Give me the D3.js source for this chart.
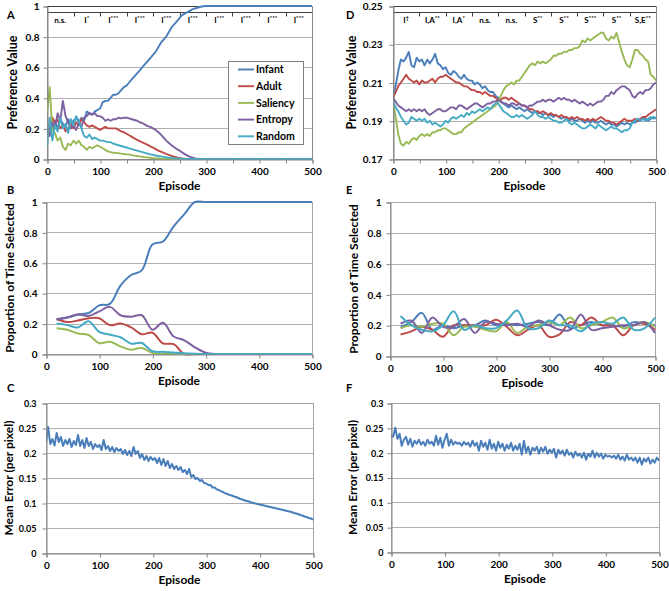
<!DOCTYPE html>
<html><head><meta charset="utf-8">
<script src="https://cdn.jsdelivr.net/npm/d3@7"></script>
<style>
body{margin:0;background:#fff}
svg text{font-family:Lato,"Open Sans",sans-serif;font-weight:700;fill:#000}
</style></head><body>
<svg id="chart" width="669" height="591"></svg>
<script>
const seriesNames = ["Infant","Adult","Saliency","Entropy","Random"];
const seriesColors = ["#4a7ebb","#be4b48","#98b954","#7d60a0","#46aac5"];
const xTickLabels = [0,100,200,300,400,500];
const prefTicks = [0,0.2,0.4,0.6,0.8,1];
const prefTicksD = [0.17,0.19,0.21,0.23,0.25];
const errTicks = [0,0.05,0.1,0.15,0.2,0.25,0.3];

// Panel A/D episodes every 5
const episodesAD = d3.range(0,501,5);
const infantA = [0.15,0.22,0.19,0.25,0.20,0.26,0.23,0.21,0.26,0.22,
0.25,0.27,0.24,0.27,0.25,0.31,0.30,0.29,0.31,0.32,
0.33,0.37,0.38,0.38,0.40,0.42,0.42,0.43,0.45,0.47,
0.48,0.50,0.52,0.54,0.56,0.58,0.60,0.62,0.64,0.66,
0.68,0.70,0.73,0.76,0.78,0.80,0.83,0.86,0.88,0.90,
0.92,0.94,0.95,0.96,0.97,0.98,0.985,0.99,0.995,0.998,
1,1,1,1,1,1,1,1,1,1,
1,1,1,1,1,1,1,1,1,1,
1,1,1,1,1,1,1,1,1,1,
1,1,1,1,1,1,1,1,1,1,
1];
const adultA = [0.15,0.20,0.27,0.24,0.26,0.20,0.22,0.18,0.20,0.23,
0.20,0.24,0.22,0.26,0.24,0.22,0.21,0.22,0.21,0.20,
0.19,0.20,0.21,0.20,0.20,0.20,0.20,0.19,0.18,0.175,
0.165,0.155,0.145,0.135,0.125,0.117,0.108,0.100,0.092,0.083,
0.075,0.065,0.055,0.048,0.040,0.033,0.027,0.020,0.015,0.010,
0.007,0.004,0.002,0.001,0,0,0,0,0,0,
0,0,0,0,0,0,0,0,0,0,
0,0,0,0,0,0,0,0,0,0,
0,0,0,0,0,0,0,0,0,0,
0,0,0,0,0,0,0,0,0,0,
0];
const saliencyA = [0.30,0.47,0.19,0.17,0.12,0.14,0.08,0.06,0.10,0.09,
0.12,0.10,0.12,0.09,0.08,0.06,0.08,0.07,0.08,0.09,
0.08,0.07,0.06,0.05,0.045,0.04,0.04,0.038,0.035,0.033,
0.03,0.03,0.025,0.022,0.02,0.017,0.015,0.012,0.01,0.008,
0.006,0.004,0.003,0.002,0.001,0,0,0,0,0,
0,0,0,0,0,0,0,0,0,0,
0,0,0,0,0,0,0,0,0,0,
0,0,0,0,0,0,0,0,0,0,
0,0,0,0,0,0,0,0,0,0,
0,0,0,0,0,0,0,0,0,0,
0];
const entropyA = [0.20,0.15,0.24,0.20,0.30,0.25,0.38,0.28,0.24,0.20,
0.22,0.19,0.23,0.21,0.27,0.28,0.30,0.29,0.30,0.28,
0.28,0.27,0.25,0.26,0.25,0.26,0.26,0.27,0.265,0.27,
0.27,0.265,0.26,0.255,0.25,0.24,0.235,0.225,0.215,0.21,
0.20,0.19,0.175,0.16,0.14,0.12,0.105,0.09,0.077,0.065,
0.055,0.043,0.032,0.022,0.014,0.008,0.004,0.002,0,0,
0,0,0,0,0,0,0,0,0,0,
0,0,0,0,0,0,0,0,0,0,
0,0,0,0,0,0,0,0,0,0,
0,0,0,0,0,0,0,0,0,0,
0];
const randomA = [0.08,0.27,0.12,0.22,0.18,0.27,0.20,0.23,0.17,0.26,
0.22,0.28,0.25,0.20,0.15,0.14,0.16,0.13,0.14,0.13,
0.12,0.12,0.115,0.11,0.11,0.10,0.095,0.09,0.085,0.08,
0.075,0.07,0.065,0.06,0.055,0.05,0.045,0.04,0.035,0.03,
0.027,0.023,0.02,0.017,0.014,0.011,0.009,0.007,0.005,0.004,
0.003,0.002,0.001,0,0,0,0,0,0,0,
0,0,0,0,0,0,0,0,0,0,
0,0,0,0,0,0,0,0,0,0,
0,0,0,0,0,0,0,0,0,0,
0,0,0,0,0,0,0,0,0,0,
0];

const infantD = [0.202,0.208,0.216,0.222,0.221,0.223,0.226,0.219,0.218,0.223,
0.221,0.222,0.219,0.222,0.220,0.222,0.225,0.220,0.219,0.217,
0.218,0.215,0.214,0.216,0.215,0.213,0.212,0.214,0.212,0.211,
0.211,0.209,0.210,0.209,0.207,0.208,0.206,0.205,0.205,0.203,
0.202,0.200,0.199,0.198,0.197,0.198,0.197,0.196,0.197,0.196,
0.195,0.196,0.195,0.194,0.195,0.194,0.194,0.193,0.194,0.193,
0.193,0.192,0.193,0.192,0.191,0.192,0.191,0.190,0.191,0.190,
0.190,0.191,0.190,0.189,0.190,0.189,0.190,0.189,0.189,0.190,
0.189,0.188,0.189,0.188,0.188,0.187,0.188,0.189,0.188,0.189,
0.188,0.189,0.189,0.190,0.190,0.191,0.191,0.190,0.191,0.192,
0.191];
const adultD = [0.202,0.205,0.208,0.210,0.212,0.214,0.212,0.211,0.210,0.211,
0.209,0.211,0.210,0.210,0.211,0.212,0.210,0.212,0.213,0.213,
0.214,0.213,0.212,0.211,0.210,0.210,0.209,0.208,0.208,0.207,
0.206,0.206,0.205,0.205,0.204,0.205,0.204,0.203,0.203,0.202,
0.201,0.201,0.202,0.202,0.201,0.202,0.201,0.200,0.199,0.198,
0.198,0.197,0.196,0.196,0.195,0.195,0.194,0.195,0.194,0.193,
0.194,0.193,0.193,0.192,0.193,0.192,0.192,0.191,0.192,0.191,
0.192,0.191,0.191,0.190,0.191,0.190,0.191,0.190,0.191,0.192,
0.191,0.190,0.190,0.189,0.189,0.188,0.189,0.190,0.191,0.190,
0.190,0.190,0.191,0.190,0.191,0.192,0.192,0.193,0.194,0.195,
0.196];
const saliencyD = [0.200,0.192,0.183,0.178,0.177,0.179,0.178,0.180,0.181,0.180,
0.182,0.183,0.182,0.183,0.182,0.184,0.184,0.185,0.185,0.186,
0.186,0.185,0.184,0.183,0.183,0.184,0.184,0.186,0.187,0.188,
0.189,0.190,0.191,0.192,0.193,0.194,0.195,0.196,0.197,0.198,
0.200,0.203,0.206,0.208,0.209,0.210,0.209,0.211,0.211,0.213,
0.215,0.217,0.219,0.220,0.219,0.221,0.220,0.221,0.220,0.221,
0.222,0.224,0.224,0.225,0.225,0.226,0.226,0.227,0.227,0.228,
0.228,0.229,0.232,0.231,0.233,0.232,0.233,0.234,0.235,0.236,
0.236,0.233,0.232,0.234,0.233,0.236,0.231,0.226,0.222,0.219,
0.218,0.222,0.227,0.227,0.225,0.224,0.222,0.221,0.214,0.213,
0.211];
const entropyD = [0.202,0.200,0.198,0.197,0.196,0.195,0.196,0.195,0.196,0.195,
0.196,0.195,0.196,0.194,0.193,0.194,0.195,0.196,0.196,0.195,
0.195,0.196,0.197,0.197,0.196,0.198,0.198,0.197,0.196,0.197,
0.198,0.199,0.199,0.198,0.197,0.198,0.199,0.199,0.200,0.200,
0.201,0.200,0.199,0.199,0.198,0.199,0.199,0.198,0.199,0.198,
0.198,0.197,0.198,0.198,0.199,0.200,0.200,0.201,0.200,0.201,
0.201,0.200,0.201,0.202,0.201,0.202,0.201,0.201,0.200,0.201,
0.200,0.199,0.200,0.199,0.198,0.199,0.198,0.199,0.200,0.200,
0.201,0.203,0.203,0.205,0.204,0.206,0.207,0.208,0.208,0.207,
0.206,0.203,0.202,0.204,0.205,0.204,0.206,0.206,0.207,0.209,
0.210];
const randomD = [0.200,0.197,0.195,0.192,0.190,0.188,0.189,0.192,0.191,0.190,
0.191,0.190,0.191,0.189,0.190,0.188,0.189,0.188,0.187,0.188,
0.190,0.189,0.191,0.192,0.191,0.192,0.193,0.192,0.194,0.193,
0.195,0.194,0.195,0.196,0.195,0.196,0.197,0.196,0.198,0.199,
0.199,0.197,0.195,0.194,0.193,0.192,0.192,0.193,0.192,0.193,
0.192,0.191,0.192,0.193,0.195,0.193,0.192,0.192,0.191,0.192,
0.191,0.190,0.190,0.189,0.189,0.190,0.191,0.189,0.188,0.189,
0.188,0.187,0.186,0.186,0.187,0.188,0.187,0.186,0.188,0.187,
0.186,0.185,0.186,0.187,0.186,0.186,0.185,0.184,0.185,0.185,
0.186,0.189,0.190,0.191,0.190,0.191,0.190,0.191,0.192,0.191,
0.192];

// Panels B/E: every 20 episodes from 20
const episodesBE = d3.range(20,501,20);
const infantB = [0.23,0.24,0.26,0.27,0.32,0.33,0.45,0.52,0.55,0.72,0.74,0.84,0.92,1,1,1,1,1,1,1,1,1,1,1,1];
const adultB = [0.23,0.21,0.22,0.235,0.235,0.19,0.20,0.175,0.13,0.14,0.07,0.065,0,0,0,0,0,0,0,0,0,0,0,0,0];
const saliencyB = [0.17,0.16,0.135,0.125,0.072,0.08,0.05,0.028,0.04,0.007,0.002,0,0,0,0,0,0,0,0,0,0,0,0,0,0];
const entropyB = [0.225,0.24,0.26,0.25,0.28,0.31,0.255,0.245,0.255,0.16,0.205,0.115,0.09,0.044,0.009,0,0,0,0,0,0,0,0,0,0];
const randomB = [0.20,0.19,0.175,0.215,0.145,0.127,0.11,0.068,0.072,0.018,0.014,0.01,0.005,0.002,0,0,0,0,0,0,0,0,0,0,0];

const infantE = [0.19,0.22,0.28,0.17,0.20,0.18,0.20,0.20,0.23,0.20,0.21,0.20,0.21,0.22,0.20,0.27,0.18,0.20,0.22,0.20,0.20,0.19,0.22,0.21,0.20];
const adultE = [0.14,0.16,0.19,0.17,0.125,0.20,0.20,0.20,0.20,0.235,0.19,0.135,0.17,0.20,0.125,0.14,0.22,0.20,0.25,0.20,0.20,0.135,0.20,0.21,0.17];
const saliencyE = [0.18,0.20,0.19,0.21,0.21,0.135,0.19,0.19,0.17,0.16,0.22,0.15,0.19,0.20,0.22,0.20,0.25,0.18,0.20,0.22,0.25,0.18,0.20,0.22,0.19];
const entropyE = [0.21,0.23,0.15,0.25,0.19,0.19,0.24,0.15,0.22,0.21,0.20,0.21,0.19,0.23,0.20,0.17,0.17,0.27,0.17,0.18,0.19,0.20,0.20,0.22,0.15];
const randomE = [0.26,0.20,0.17,0.16,0.20,0.29,0.17,0.20,0.18,0.18,0.23,0.295,0.18,0.18,0.23,0.20,0.20,0.16,0.21,0.22,0.21,0.25,0.17,0.18,0.25];

// Panels C/F: every 4 episodes
const episodesCF = d3.range(0,501,4);
const errorC = [0.222,0.252,0.218,0.228,0.215,0.240,0.222,0.232,0.214,0.226,
0.218,0.228,0.212,0.224,0.216,0.236,0.214,0.226,0.210,0.230,
0.214,0.222,0.208,0.218,0.212,0.216,0.206,0.226,0.208,0.214,
0.204,0.212,0.202,0.210,0.204,0.208,0.198,0.206,0.196,0.204,
0.194,0.212,0.198,0.204,0.190,0.198,0.186,0.194,0.184,0.192,
0.186,0.190,0.180,0.190,0.176,0.188,0.174,0.184,0.170,0.178,
0.168,0.174,0.166,0.172,0.162,0.166,0.158,0.168,0.152,0.156,
0.148,0.150,0.144,0.146,0.140,0.139,0.136,0.136,0.131,0.131,
0.127,0.126,0.123,0.122,0.119,0.118,0.116,0.115,0.113,0.112,
0.110,0.108,0.107,0.105,0.104,0.103,0.101,0.100,0.099,0.098,
0.097,0.096,0.095,0.094,0.093,0.092,0.091,0.090,0.089,0.088,
0.087,0.086,0.085,0.084,0.083,0.082,0.080,0.079,0.078,0.076,
0.075,0.073,0.072,0.070,0.069,0.067];
const errorF = [0.236,0.232,0.250,0.228,0.238,0.214,0.226,0.232,0.216,0.228,
0.212,0.224,0.218,0.226,0.216,0.222,0.214,0.226,0.218,0.222,
0.214,0.234,0.216,0.230,0.210,0.226,0.238,0.214,0.226,0.216,
0.222,0.218,0.220,0.214,0.222,0.216,0.220,0.212,0.224,0.214,
0.220,0.204,0.224,0.212,0.220,0.206,0.226,0.208,0.218,0.204,
0.222,0.210,0.218,0.204,0.216,0.208,0.220,0.204,0.214,0.206,
0.218,0.196,0.224,0.200,0.212,0.196,0.210,0.204,0.212,0.198,
0.210,0.202,0.212,0.198,0.206,0.200,0.208,0.190,0.206,0.198,
0.204,0.194,0.206,0.196,0.200,0.190,0.202,0.194,0.198,0.190,
0.200,0.186,0.198,0.192,0.204,0.190,0.200,0.192,0.198,0.188,
0.196,0.192,0.194,0.190,0.194,0.188,0.196,0.186,0.192,0.184,
0.196,0.186,0.190,0.184,0.190,0.180,0.190,0.176,0.188,0.182,
0.190,0.178,0.186,0.180,0.190,0.184];

const bandA = ["n.s.","I","I","I","I","I","I","I","I","I"];
const bandASup = ["","*","***","***","***","***","***","***","***","***"];
const bandD = ["I","I,A","I,A","n.s.","n.s.","S","S","S","S","S,E"];
const bandDSup = ["†","**","*","","","**","**","***","**","**"];

const svg = d3.select("#chart");
const defs = svg.append("defs");

function drawPanel(p){
  const g = svg.append("g");
  const x = d3.scaleLinear().domain([0,500]).range([p.l,p.r]);
  const y = d3.scaleLinear().domain(p.yDomain).range([p.b,p.t]);
  g.selectAll("line.grid").data(p.yTicks.slice(1,-1)).join("line")
    .attr("x1",p.l).attr("x2",p.r)
    .attr("y1",d=>Math.round(y(d))+0.5).attr("y2",d=>Math.round(y(d))+0.5)
    .attr("stroke","#b0b0b0").attr("stroke-width",1);
  g.append("rect").attr("x",p.l+0.5).attr("y",p.t+0.5)
    .attr("width",p.r-p.l).attr("height",p.b-p.t)
    .attr("fill","none").attr("stroke",p.frame).attr("stroke-width",1);
  if(p.band){
    const by = p.t+6.5;
    g.append("line").attr("x1",p.l).attr("x2",p.r).attr("y1",p.t+0.5).attr("y2",p.t+0.5).attr("stroke","#404040");
    g.append("line").attr("x1",p.l).attr("x2",p.r).attr("y1",by).attr("y2",by).attr("stroke","#404040");
    g.selectAll("line.bt").data(d3.range(50,500,50)).join("line")
      .attr("x1",d=>Math.round(x(d))+0.5).attr("x2",d=>Math.round(x(d))+0.5)
      .attr("y1",by).attr("y2",by+4).attr("stroke","#404040");
    const t = g.selectAll("text.band").data(p.band).join("text")
      .attr("x",(d,i)=>x(25+50*i)).attr("y",by+10)
      .attr("text-anchor","middle").attr("font-size",8);
    t.each(function(d,i){
      const el = d3.select(this);
      el.append("tspan").text(d);
      if(p.bandSup[i]) el.append("tspan").attr("font-size",6).attr("dy",-2.5).text(p.bandSup[i]);
    });
  }
  const cid = "clip"+p.id;
  defs.append("clipPath").attr("id",cid).append("rect")
    .attr("x",p.l).attr("y",p.t-2).attr("width",p.r-p.l+2).attr("height",p.b-p.t+4);
  const line = d3.line().x(d=>x(d[0])).y(d=>y(d[1])).curve(p.curve);
  p.series.forEach((vals,i)=>{
    g.append("path").datum(p.xs.map((e,j)=>[e,vals[j]]))
      .attr("d",line).attr("fill","none").attr("stroke",p.colors[i])
      .attr("stroke-width",p.sw).attr("stroke-linejoin","round")
      .attr("clip-path",`url(#${cid})`);
  });
  const ya = g.append("g").attr("transform",`translate(${p.l+0.5},0.5)`)
    .call(d3.axisLeft(y).tickValues(p.yTicks).tickSize(4).tickPadding(p.yPad).tickFormat(d=>String(d)));
  ya.select(".domain").attr("stroke","#868686");
  ya.selectAll(".tick line").attr("stroke","#868686");
  ya.selectAll(".tick text").attr("font-size",p.yFont).attr("font-family",null);
  const xa = g.append("g").attr("transform",`translate(0.5,${p.b+0.5})`)
    .call(d3.axisBottom(x).tickValues(p.xTickMarks).tickSize(4).tickPadding(4.5)
      .tickFormat(d=>xTickLabels.includes(d)?String(d):""));
  xa.select(".domain").attr("stroke","#868686");
  xa.selectAll(".tick line").attr("stroke","#868686");
  xa.selectAll(".tick text").attr("font-size",10).attr("font-family",null);
  svg.append("text").attr("x",(p.l+p.r)/2).attr("y",p.b+30.5)
    .attr("text-anchor","middle").attr("font-size",12).text("Episode");
  svg.append("text").attr("transform",`translate(${p.ytx},${(p.t+p.b)/2}) rotate(-90)`)
    .attr("text-anchor","middle").attr("dy","0.35em").attr("font-size",p.ytFont).text(p.yTitle);
  svg.append("text").attr("x",p.lx).attr("y",p.ly).attr("font-size",11).text(p.letter);
  return {x,y,g};
}

const pA = drawPanel({id:"A",l:47,r:312,t:6,b:159,yDomain:[0,1],yTicks:prefTicks,yPad:4,yFont:10,
  xTickMarks:d3.range(0,501,50),frame:"#8a8a8a",band:bandA,bandSup:bandASup,
  xs:episodesAD,series:[infantA,adultA,saliencyA,entropyA,randomA],colors:seriesColors,sw:1.9,
  curve:d3.curveLinear,yTitle:"Preference Value",ytFont:12.5,ytx:13,letter:"A",lx:7,ly:19});

const lg = pA.g.append("g");
lg.append("rect").attr("x",228.5).attr("y",61.5).attr("width",75).attr("height",83)
  .attr("fill","#fff").attr("stroke","#7f7f7f");
seriesNames.forEach((n,i)=>{
  const yy = 69.5+i*16.7;
  lg.append("line").attr("x1",238).attr("x2",254).attr("y1",yy).attr("y2",yy)
    .attr("stroke",seriesColors[i]).attr("stroke-width",1.9);
  lg.append("text").attr("x",256).attr("y",yy).attr("dy","0.35em").attr("font-size",10.5).text(n);
});

drawPanel({id:"D",l:393,r:656,t:6,b:159,yDomain:[0.17,0.25],yTicks:prefTicksD,yPad:7,yFont:10,
  xTickMarks:d3.range(0,501,50),frame:"#8a8a8a",band:bandD,bandSup:bandDSup,
  xs:episodesAD,series:[infantD,adultD,saliencyD,entropyD,randomD],colors:seriesColors,sw:1.9,
  curve:d3.curveLinear,yTitle:"Preference Value",ytFont:12.5,ytx:352,letter:"D",lx:346,ly:19});

drawPanel({id:"B",l:46,r:312,t:202,b:354,yDomain:[0,1],yTicks:prefTicks,yPad:5,yFont:10,
  xTickMarks:xTickLabels,frame:"#a6a6a6",
  xs:episodesBE,series:[infantB,adultB,saliencyB,entropyB,randomB],colors:seriesColors,sw:2,
  curve:d3.curveCatmullRom.alpha(0.5),yTitle:"Proportion of Time Selected",ytFont:12,ytx:10,letter:"B",lx:7,ly:194});

drawPanel({id:"E",l:390,r:655,t:202,b:356,yDomain:[0,1],yTicks:prefTicks,yPad:5,yFont:10,
  xTickMarks:xTickLabels,frame:"#a6a6a6",
  xs:episodesBE,series:[infantE,adultE,saliencyE,entropyE,randomE],colors:seriesColors,sw:2,
  curve:d3.curveCatmullRom.alpha(0.5),yTitle:"Proportion of Time Selected",ytFont:12,ytx:354,letter:"E",lx:346,ly:194});

drawPanel({id:"C",l:46,r:313,t:403,b:553,yDomain:[0,0.3],yTicks:errTicks,yPad:6,yFont:9,
  xTickMarks:xTickLabels,frame:"#a6a6a6",
  xs:episodesCF,series:[errorC],colors:["#4a7ebb"],sw:2,
  curve:d3.curveLinear,yTitle:"Mean Error (per pixel)",ytFont:12,ytx:9,letter:"C",lx:7,ly:392});

drawPanel({id:"F",l:391,r:659,t:403,b:552,yDomain:[0,0.3],yTicks:errTicks,yPad:4,yFont:9,
  xTickMarks:xTickLabels,frame:"#a6a6a6",
  xs:episodesCF,series:[errorF],colors:["#4a7ebb"],sw:2,
  curve:d3.curveLinear,yTitle:"Mean Error (per pixel)",ytFont:12,ytx:353,letter:"F",lx:346,ly:392});
</script>
</body></html>
